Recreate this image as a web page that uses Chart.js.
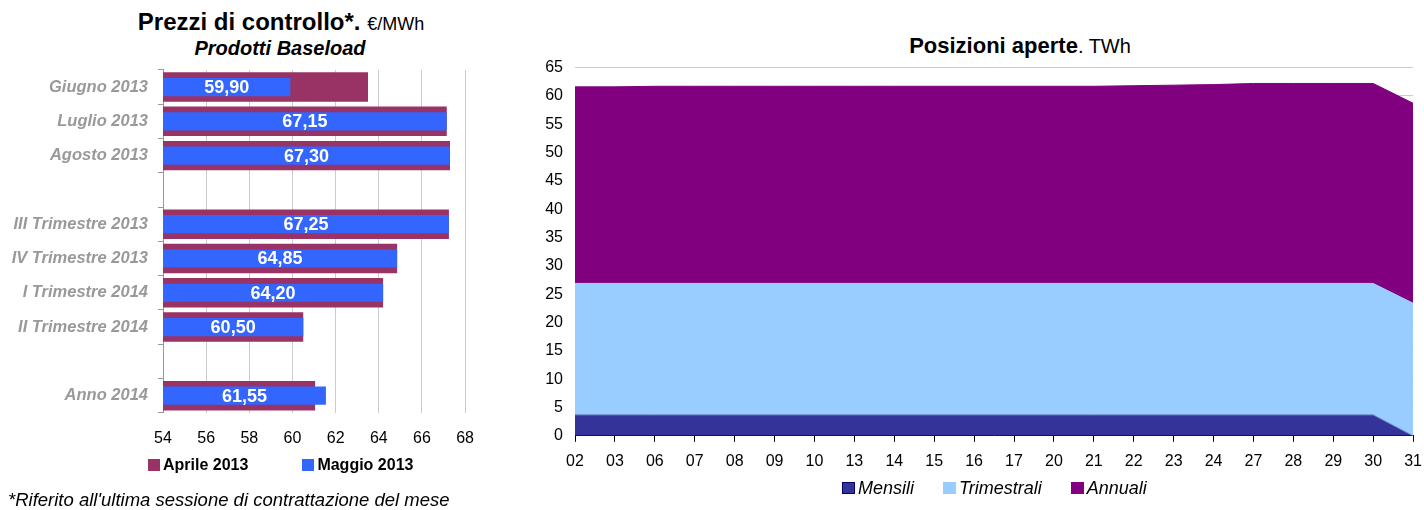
<!DOCTYPE html>
<html>
<head>
<meta charset="utf-8">
<script src="https://cdn.jsdelivr.net/npm/chart.js@4/dist/chart.umd.min.js"></script>
<style>
  body { margin: 0; width: 1424px; height: 510px; background: #fff; position: relative; overflow: hidden;
         font-family: "Liberation Sans", Arial, sans-serif; color: #000; }
  .abs { position: absolute; }
  #leftTitle { left: 0; width: 562px; top: 8px; text-align: center; font-size: 24px; font-weight: bold; line-height: 28px; white-space: nowrap; }
  #leftTitle small { font-size: 18px; font-weight: normal; }
  #leftSub { left: 0; width: 560px; top: 36px; text-align: center; font-size: 20px; font-weight: bold; font-style: italic; line-height: 24px; }
  #rightTitle { left: 530px; width: 980px; top: 32px; text-align: center; font-size: 22px; font-weight: bold; line-height: 28px; }
  #rightTitle span { font-size: 20px; font-weight: normal; }
  #leftLegend { left: 148px; top: 455px; font-size: 16px; font-weight: bold; line-height: 20px; white-space: nowrap; }
  #rightLegend { left: 842px; top: 477px; font-size: 18px; font-style: italic; line-height: 22px; white-space: nowrap; display: flex; align-items: center; }
  #rightLegend .sw { width: 13px; height: 12px; box-sizing: border-box; }
  #rightLegend .item { display: flex; align-items: center; margin-right: 29px; }
  .sw { display: inline-block; width: 12px; height: 12px; vertical-align: -1px; margin-right: 3px; }
  #note { left: 8px; top: 489px; font-size: 18.5px; font-style: italic; line-height: 22px; white-space: nowrap; }
  #leftWrap { left: 0; top: 50px; width: 490px; height: 414px; }
  #rightWrap { left: 530px; top: 46px; width: 902px; height: 462px; }
</style>
</head>
<body>
<div class="abs" id="leftTitle">Prezzi di controllo*. <small>€/MWh</small></div>
<div class="abs" id="leftSub">Prodotti Baseload</div>
<div class="abs" id="rightTitle">Posizioni aperte<span>. TWh</span></div>
<div class="abs" id="leftWrap"><canvas id="prices"></canvas></div>
<div class="abs" id="rightWrap"><canvas id="positions"></canvas></div>
<div class="abs" id="leftLegend"><span class="sw" style="background:#993366"></span>Aprile 2013<span style="display:inline-block;width:54px"></span><span class="sw" style="background:#3366ff"></span>Maggio 2013</div>
<div class="abs" id="rightLegend"></div>
<div class="abs" id="note">*Riferito all'ultima sessione di contrattazione del mese</div>
<script>
const FONT = '"Liberation Sans", Arial, sans-serif';

// prezzi di controllo
const products = ['Giugno 2013', 'Luglio 2013', 'Agosto 2013', '', 'III Trimestre 2013', 'IV Trimestre 2013',
                  'I Trimestre 2014', 'II Trimestre 2014', '', 'Anno 2014'];
const aprile = [63.5, 67.15, 67.3, null, 67.25, 64.85, 64.2, 60.5, null, 61.05];
const maggio = [59.9, 67.15, 67.3, null, 67.25, 64.85, 64.2, 60.5, null, 61.55];
const priceTicks = [54, 56, 58, 60, 62, 64, 66, 68];

// posizioni aperte
const days = ['02','03','06','07','08','09','10','13','14','15','16','17','20','21','22','23','24','27','28','29','30','31'];
const mensili = [3.7, 3.7, 3.7, 3.7, 3.7, 3.7, 3.7, 3.7, 3.7, 3.7, 3.7, 3.7, 3.7, 3.7, 3.7, 3.7, 3.7, 3.7, 3.7, 3.7, 3.7, 0];
const trimestrali = [23.2, 23.2, 23.2, 23.2, 23.2, 23.2, 23.2, 23.2, 23.2, 23.2, 23.2, 23.2, 23.2, 23.2, 23.2, 23.2, 23.2, 23.2, 23.2, 23.2, 23.2, 23.4];
const annuali = [34.7, 34.7, 34.8, 34.8, 34.8, 34.8, 34.8, 34.8, 34.8, 34.8, 34.8, 34.8, 34.8, 34.8, 34.9, 35.0, 35.1, 35.3, 35.3, 35.3, 35.3, 35.3];

const fmt = v => v.toFixed(2).replace('.', ',');

// valori di maggio scritti dentro le barre blu
const barLabels = {
  id: 'barLabels',
  afterDraw(chart) {
    const xs = chart.scales.x, ys = chart.scales.y;
    const ctx = chart.ctx;
    ctx.save();
    ctx.fillStyle = '#ffffff';
    ctx.font = 'bold 18px ' + FONT;
    ctx.textAlign = 'center';
    ctx.textBaseline = 'middle';
    maggio.forEach((v, i) => {
      if (v == null) return;
      const x = (xs.getPixelForValue(v) + xs.getPixelForValue(xs.min)) / 2;
      ctx.fillText(fmt(v), x, ys.getPixelForValue(i) + 1);
    });
    ctx.restore();
  }
};

new Chart(document.getElementById('prices'), {
  type: 'bar',
  data: {
    labels: products,
    datasets: [
      { label: 'Maggio 2013', data: maggio, backgroundColor: '#3366ff', order: 0,
        barPercentage: 0.53, categoryPercentage: 1, grouped: false },
      { label: 'Aprile 2013', data: aprile, backgroundColor: '#993366', order: 1,
        barPercentage: 0.86, categoryPercentage: 1, grouped: false }
    ]
  },
  options: {
    indexAxis: 'y',
    responsive: true,
    maintainAspectRatio: false,
    animation: false,
    layout: { padding: { top: 10, right: 8, left: 0, bottom: 0 } },
    plugins: { legend: { display: false }, tooltip: { enabled: false } },
    scales: {
      x: {
        min: 54, max: 68,
        afterBuildTicks: s => { s.ticks = priceTicks.map(v => ({ value: v })); },
        grid: { color: '#cccccc', drawTicks: false },
        border: { display: false },
        ticks: { padding: 16, color: '#000', font: { family: FONT, size: 16 } }
      },
      y: {
        afterFit: s => { s.width = 163; },
        grid: { drawOnChartArea: false, tickLength: 5, color: '#999999' },
        border: { color: '#999999' },
        ticks: { padding: 10, color: '#999999', autoSkip: false,
                 font: { family: FONT, size: 16.5, weight: 'bold', style: 'italic' } }
      }
    }
  },
  plugins: [barLabels]
});

const areaSets = [
  { label: 'Mensili', data: mensili, backgroundColor: '#333399', borderColor: '#7090d0',
    borderWidth: 1, fill: 'origin', pointRadius: 0 },
  { label: 'Trimestrali', data: trimestrali, backgroundColor: '#99ccff', borderColor: '#99ccff',
    borderWidth: 1, fill: '-1', pointRadius: 0 },
  { label: 'Annuali', data: annuali, backgroundColor: '#800080', borderColor: '#800080',
    borderWidth: 1, fill: '-1', pointRadius: 0 }
];

new Chart(document.getElementById('positions'), {
  type: 'line',
  data: { labels: days, datasets: areaSets },
  options: {
    responsive: true,
    maintainAspectRatio: false,
    animation: false,
    layout: { padding: { top: 10, right: 1, left: 0, bottom: 27 } },
    plugins: { tooltip: { enabled: false }, legend: { display: false } },
    scales: {
      x: {
        grid: { drawOnChartArea: false, tickLength: 6, color: '#000' },
        border: { color: '#000' },
        ticks: { padding: 10, color: '#000', autoSkip: false, maxRotation: 0,
                 font: { family: FONT, size: 16 } }
      },
      y: {
        stacked: true,
        min: 0, max: 65,
        afterFit: s => { s.width = 45; },
        grid: { color: '#cccccc', drawTicks: false },
        border: { display: false },
        ticks: { stepSize: 5, padding: 12, color: '#000', font: { family: FONT, size: 16 } }
      }
    }
  }
});

// legenda del grafico a destra
const rightLegend = document.getElementById('rightLegend');
areaSets.forEach(ds => {
  const item = document.createElement('span');
  item.className = 'item';
  const sw = document.createElement('span');
  sw.className = 'sw';
  sw.style.background = ds.backgroundColor;
  if (ds.label === 'Mensili') sw.style.border = '1px solid #000066';
  item.appendChild(sw);
  item.appendChild(document.createTextNode(ds.label));
  rightLegend.appendChild(item);
});
</script>
</body>
</html>
